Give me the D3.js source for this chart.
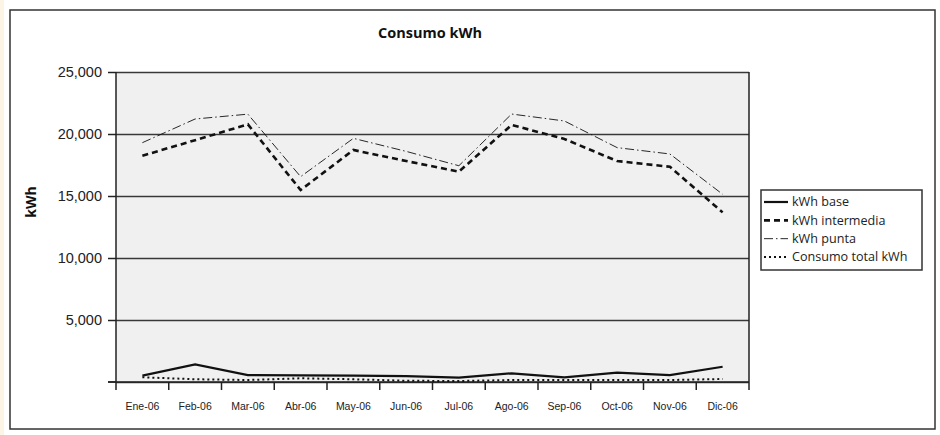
<!DOCTYPE html>
<html>
<head>
<meta charset="utf-8">
<script src="https://cdn.jsdelivr.net/npm/d3@7/dist/d3.min.js"></script>
<style>
  html, body { margin: 0; padding: 0; background: #fff; }
  svg { display: block; font-family: "Open Sans", "DejaVu Sans", sans-serif; }
</style>
</head>
<body>
<svg id="chart" width="940" height="435"></svg>
<script>
// Monthly consumption, 2006
const months = ["Ene-06", "Feb-06", "Mar-06", "Abr-06", "May-06", "Jun-06",
                "Jul-06", "Ago-06", "Sep-06", "Oct-06", "Nov-06", "Dic-06"];
const kwhBase       = [510, 1420, 560, 540, 510, 480, 350, 700, 380, 750, 560, 1230];
const kwhIntermedia = [18250, 19500, 20780, 15480, 18710, 17820, 16960, 20730, 19600, 17820, 17360, 13680];
const kwhPunta      = [19300, 21210, 21600, 16560, 19650, 18600, 17440, 21610, 21050, 18900, 18390, 15140];
const consumoTotal  = [380, 220, 160, 300, 220, 100, 80, 160, 160, 160, 160, 240];
const yTicks = [0, 5000, 10000, 15000, 20000, 25000];

const seriesNames = ["kWh base", "kWh intermedia", "kWh punta", "Consumo total kWh"];
const seriesValues = [kwhBase, kwhIntermedia, kwhPunta, consumoTotal];
const seriesStyle = [
  { width: 2.2, dash: null },
  { width: 2.6, dash: "6,4" },
  { width: 0.9, dash: "9,3,1.5,3" },
  { width: 2,   dash: "2,3" }
];

const svg = d3.select("#chart");
const plot = { left: 116, right: 749, top: 72, bottom: 382 };
const ink = "#222";

// page edge strip and outer frame
svg.append("rect").attr("x", 0).attr("y", 0).attr("width", 4).attr("height", 435).attr("fill", "#fcf4e4");
svg.append("rect").attr("x", 10).attr("y", 10).attr("width", 925).attr("height", 419)
  .attr("fill", "#fff").attr("stroke", "#333").attr("stroke-width", 1.5);

const x = d3.scaleBand().domain(months).range([plot.left, plot.right]).padding(0);
const y = d3.scaleLinear().domain([0, 25000]).range([plot.bottom, plot.top]);

// plot background
svg.append("rect")
  .attr("x", plot.left).attr("y", plot.top)
  .attr("width", plot.right - plot.left).attr("height", plot.bottom - plot.top)
  .attr("fill", "#f0f0f0");

// horizontal gridlines
const grid = svg.append("g").attr("transform", `translate(${plot.left},0)`)
  .call(d3.axisLeft(y).tickValues(yTicks).tickSize(-(plot.right - plot.left)).tickFormat(""));
grid.select(".domain").remove();
grid.selectAll("line").attr("stroke", "#383838").attr("stroke-width", 1.5);

// y axis with outward ticks and labels
const yAxis = svg.append("g").attr("transform", `translate(${plot.left},0)`)
  .call(d3.axisLeft(y).tickValues(yTicks.filter(d => d > 0)).tickSize(8).tickPadding(6)
    .tickFormat(d3.format(",")));
yAxis.select(".domain").remove();
yAxis.selectAll("line").attr("stroke", ink).attr("stroke-width", 1.5);
yAxis.selectAll("text").attr("fill", ink).attr("font-size", 14.5).attr("dy", "0.34em");
// zero tick
svg.append("line").attr("x1", plot.left - 8).attr("x2", plot.left)
  .attr("y1", y(0)).attr("y2", y(0)).attr("stroke", ink).attr("stroke-width", 1.5);

// vertical frame lines reaching below the category axis
[plot.left, plot.right].forEach(px => {
  svg.append("line").attr("x1", px).attr("x2", px)
    .attr("y1", plot.top).attr("y2", plot.bottom + 8)
    .attr("stroke", ink).attr("stroke-width", 1.5);
});

// category axis: ticks at band boundaries, labels at band centres
const xAxis = svg.append("g").attr("transform", `translate(0,${plot.bottom})`)
  .call(d3.axisBottom(x).tickSize(0).tickPadding(21));
xAxis.select(".domain").remove();
xAxis.selectAll("text").attr("fill", ink).attr("font-size", 10.5);
svg.append("g").selectAll("line")
  .data(months.slice(1))
  .join("line")
  .attr("x1", d => x(d)).attr("x2", d => x(d))
  .attr("y1", plot.bottom).attr("y2", plot.bottom + 8)
  .attr("stroke", ink).attr("stroke-width", 1.5);
svg.append("line").attr("x1", plot.left - 8).attr("x2", plot.right)
  .attr("y1", plot.bottom).attr("y2", plot.bottom)
  .attr("stroke", ink).attr("stroke-width", 1.5);

// series lines
const line = d3.line()
  .x((d, i) => x(months[i]) + x.bandwidth() / 2)
  .y(d => y(d));

seriesValues.forEach((vals, k) => {
  svg.append("path")
    .datum(vals)
    .attr("d", line)
    .attr("fill", "none")
    .attr("stroke", "#111")
    .attr("stroke-width", seriesStyle[k].width)
    .attr("stroke-dasharray", seriesStyle[k].dash)
    .attr("stroke-linejoin", "miter");
});

// title and axis label
svg.append("text").attr("x", 430).attr("y", 38).attr("text-anchor", "middle")
  .attr("font-size", 14.5).attr("font-weight", "bold").attr("fill", "#111")
  .text("Consumo kWh");
svg.append("text").attr("transform", "translate(36,202) rotate(-90)")
  .attr("text-anchor", "middle").attr("font-size", 14).attr("font-weight", "bold")
  .attr("fill", "#111").text("kWh");

// legend
const legend = svg.append("g");
legend.append("rect").attr("x", 761).attr("y", 190).attr("width", 161).attr("height", 80)
  .attr("fill", "#fff").attr("stroke", "#333").attr("stroke-width", 1.5);
const rowY = d3.scalePoint().domain(seriesNames).range([202, 257]);
seriesNames.forEach((name, k) => {
  const ry = rowY(name);
  legend.append("line").attr("x1", 764).attr("x2", 788).attr("y1", ry).attr("y2", ry)
    .attr("stroke", "#111").attr("stroke-width", seriesStyle[k].width)
    .attr("stroke-dasharray", seriesStyle[k].dash);
  legend.append("text").attr("x", 792).attr("y", ry).attr("dy", "0.35em")
    .attr("font-size", 12.6).attr("fill", ink).text(name);
});
</script>
</body>
</html>
